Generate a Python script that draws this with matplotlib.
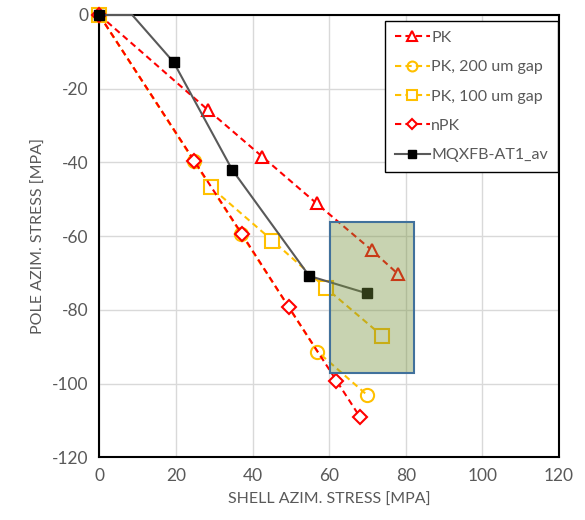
import matplotlib.pyplot as plt
from matplotlib.patches import Rectangle

plt.rcParams['font.family'] = ['Lato', 'DejaVu Sans']
plt.rcParams['axes.unicode_minus'] = False

# PK
pk_x = [0, 28.4, 42.5, 56.7, 71.1, 78.0]
pk_y = [0, -25.8, -38.4, -51.1, -63.8, -70.3]
# PK, 200 um gap
pk200_x = [0, 24.8, 37.1, 56.9, 69.9]
pk200_y = [0, -39.7, -59.5, -91.3, -103.1]
# PK, 100 um gap
pk100_x = [0, 29.1, 45.2, 59.3, 73.9]
pk100_y = [0, -46.7, -61.2, -74.2, -87.1]
# nPK
npk_x = [0, 24.8, 37.2, 49.5, 61.9, 68.0]
npk_y = [0, -39.6, -59.4, -79.3, -99.2, -109.0]
# MQXFB-AT1_av (line leaves the top edge near x=8.6)
mq_x = [0, 8.6, 19.4, 34.7, 54.8, 69.8]
mq_y = [0, 0, -12.8, -42.0, -70.8, -75.5]

# target window
box_x0, box_x1 = 60.2, 82.1
box_y0, box_y1 = -97.2, -56.3

red = '#ff0000'
orange = '#ffc000'
gray_txt = '#595959'

fig = plt.figure(figsize=(5.85, 5.2), dpi=100)
ax = fig.add_axes([0.1697, 0.1206, 0.7859, 0.8506])

dash = (0, (3, 2))
ax.plot(pk_x, pk_y, ls=dash, lw=1.5, color=red, marker='^', ms=9,
        mfc='white', mec=red, mew=1.5, label='PK', zorder=3, clip_on=False)
ax.plot(pk200_x, pk200_y, ls=dash, lw=1.5, color=orange, marker='o', ms=9.5,
        mfc='none', mec=orange, mew=1.5, label='PK, 200 um gap', zorder=3, clip_on=False)
ax.plot(pk100_x, pk100_y, ls=dash, lw=1.5, color=orange, marker='s', ms=10,
        mfc='white', mec=orange, mew=1.5, label='PK, 100 um gap', zorder=3, clip_on=False)
ax.plot(npk_x, npk_y, ls=dash, lw=1.5, color=red, marker='D', ms=7,
        mfc='white', mec=red, mew=1.5, label='nPK', zorder=3, clip_on=False)
ax.plot(mq_x, mq_y, ls='-', lw=1.5, color='#595959', marker='s', ms=7.5,
        mfc='black', mec='black', markevery=[0, 2, 3, 4, 5],
        label='MQXFB-AT1_av', zorder=4, clip_on=False)

ax.add_patch(Rectangle((box_x0, box_y0), box_x1 - box_x0, box_y1 - box_y0,
                       facecolor=(0.463, 0.573, 0.235, 0.4), edgecolor='#41719c',
                       lw=1.5, zorder=5))

ax.set_xlim(0, 120)
ax.set_ylim(-120, 0)
ax.set_xticks(range(0, 121, 20))
ax.set_yticks(range(-120, 1, 20))
ax.grid(True, color='#d9d9d9', lw=1)
ax.set_axisbelow(True)
for s in ax.spines.values():
    s.set_color('black')
    s.set_linewidth(1.5)
ax.tick_params(length=0, labelsize=12.5, labelcolor=gray_txt, pad=8)

ax.set_xlabel('SHELL AZIM. STRESS [MPA]', fontsize=11.5, color=gray_txt, labelpad=6)
ax.set_ylabel('POLE AZIM. STRESS [MPA]', fontsize=11.5, color=gray_txt, labelpad=4)

leg = ax.legend(loc='upper right', bbox_to_anchor=(0.997, 0.986), borderaxespad=0,
                fontsize=11.5, labelcolor=gray_txt, fancybox=False, framealpha=1,
                edgecolor='black', handlelength=2.2, handletextpad=0.1,
                borderpad=0.6, labelspacing=0.95, markerscale=0.75)
leg.get_frame().set_linewidth(1.0)
leg.set_zorder(10)

fig.savefig('out.png', dpi=100)
